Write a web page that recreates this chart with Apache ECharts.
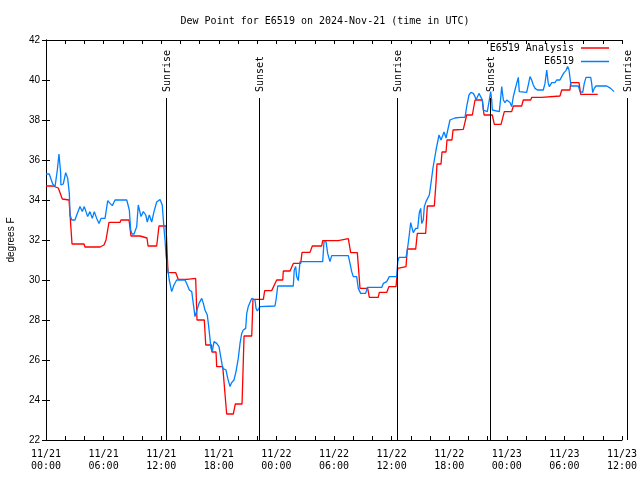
<!DOCTYPE html>
<html>
<head>
<meta charset="utf-8">
<script src="https://cdn.jsdelivr.net/npm/echarts@6/dist/echarts.min.js"></script>
<style>html,body{margin:0;padding:0;background:#fff}#c{width:640px;height:480px}</style>
</head>
<body>
<div id="c"></div>
<script>
// Hours since 2024-11-21 00:00 UTC, dew point (°F)
const analysisData = [
[0,34.7],[0.70,34.7],[0.80,34.6],[1.28,34.6],[1.70,34.05],[2.40,34.0],[2.71,31.8],[3.96,31.8],[4.06,31.65],[5.63,31.65],
[5.73,31.7],[6.04,31.75],[6.25,32.0],[6.56,32.88],[7.71,32.88],[7.81,33.0],[8.65,33.0],[8.85,32.2],[9.79,32.2],[9.90,32.1],
[10.52,32.1],[10.63,31.7],[11.53,31.7],[11.77,32.7],[12.50,32.7],[12.71,30.37],[13.51,30.37],[13.78,30.03],[14.66,30.03],[14.74,30.08],
[15.59,30.08],[15.73,28.0],[16.49,28.0],[16.64,26.75],[17.24,26.75],[17.29,26.4],[17.71,26.4],[17.78,25.67],[18.41,25.67],[18.82,23.3],
[19.51,23.3],[19.72,23.8],[20.42,23.8],[20.63,27.2],[21.43,27.2],[21.56,29.03],[22.64,29.03],[22.78,29.47],[23.51,29.47],[24.03,30.0],
[24.66,30.0],[24.72,30.45],[25.42,30.45],[25.76,30.83],[26.53,30.83],[26.67,31.38],[27.50,31.38],[27.74,31.7],[28.72,31.7],[28.82,31.97],
[30.45,31.97],[30.63,32.07],[31.49,32.07],[31.74,31.37],[32.43,31.37],[32.71,29.58],[33.51,29.58],[33.68,29.13],[34.61,29.13],[34.72,29.38],
[35.49,29.38],[35.73,29.67],[36.46,29.67],[36.64,30.58],[36.67,30.67],[37.50,30.67],[37.64,31.55],[38.51,31.55],[38.68,32.33],[39.55,32.33],
[39.72,33.7],[40.45,33.7],[40.63,34.9],[40.73,35.8],[41.15,35.8],[41.25,36.4],[41.67,36.4],[41.77,37.0],[42.29,37.0],[42.40,37.5],
[43.47,37.53],[43.82,38.25],[44.41,38.25],[44.69,39.0],[45.45,39.0],[45.63,38.25],[46.49,38.25],[46.70,37.78],[47.40,37.78],[47.74,38.42],
[48.51,38.42],[48.68,38.7],[49.55,38.7],[49.72,39.0],[50.49,39.0],[50.59,39.13],[51.64,39.13],[51.67,39.2],[53.54,39.2],[53.72,39.5],
[54.58,39.5],[54.66,39.87],[55.52,39.87],[55.70,39.28],[57.47,39.28]
];
const stationData = [
[0.00,35.3],[0.34,35.3],[0.70,34.8],[0.94,34.67],[1.18,35.5],[1.35,36.3],[1.53,35.33],[1.55,34.75],[1.80,34.8],[2.05,35.37],
[2.26,35.08],[2.43,34.33],[2.50,33.25],[2.68,33.0],[3.02,33.0],[3.20,33.25],[3.54,33.67],[3.78,33.42],[3.99,33.67],[4.34,33.17],
[4.58,33.42],[4.82,33.08],[5.03,33.42],[5.28,33.08],[5.52,32.83],[5.73,33.08],[6.15,33.08],[6.43,33.97],[6.67,33.83],[6.91,33.72],
[7.19,34.0],[8.41,34.0],[8.68,33.5],[8.82,32.5],[8.96,32.3],[9.17,32.3],[9.45,32.67],[9.61,33.75],[9.90,33.17],[10.14,33.42],
[10.39,33.25],[10.55,32.9],[10.76,33.25],[11.01,32.9],[11.25,33.42],[11.53,33.9],[11.88,34.03],[12.11,33.75],[12.29,32.58],[12.40,32.0],
[12.50,31.25],[12.64,30.67],[12.84,30.0],[13.09,29.42],[13.33,29.75],[13.61,30.0],[14.48,30.0],[14.72,29.75],[14.93,29.5],[15.18,29.42],
[15.34,28.83],[15.52,28.17],[15.70,28.25],[15.94,28.83],[16.22,29.08],[16.39,28.83],[16.56,28.5],[16.80,28.25],[16.91,27.83],[17.08,27.08],
[17.19,26.58],[17.32,26.42],[17.50,26.92],[17.78,26.83],[18.02,26.67],[18.20,26.17],[18.41,25.58],[18.75,25.5],[18.93,25.08],[19.17,24.67],
[19.34,24.87],[19.58,25.0],[19.79,25.42],[20.03,26.08],[20.21,26.83],[20.39,27.33],[20.55,27.5],[20.80,27.58],[20.91,28.33],[21.07,28.67],
[21.25,28.67],[21.43,29.08],[21.59,29.17],[21.77,29.0],[21.88,28.58],[22.01,28.45],[22.29,28.67],[23.85,28.7],[23.96,29.0],[24.14,29.7],
[25.76,29.7],[25.86,30.5],[26.01,30.67],[26.11,30.17],[26.28,29.97],[26.46,30.92],[28.82,30.92],[28.96,31.92],[29.17,31.92],[29.34,31.33],
[29.58,30.92],[29.76,31.22],[31.49,31.22],[31.74,30.67],[31.84,30.42],[32.01,30.17],[32.36,30.17],[32.53,29.58],[32.78,29.33],[33.30,29.33],
[33.47,29.63],[34.97,29.63],[35.14,29.83],[35.49,29.92],[35.76,30.17],[36.53,30.17],[36.64,30.92],[36.77,31.13],[37.50,31.13],[37.64,31.5],
[37.84,32.25],[37.99,32.87],[38.09,32.67],[38.26,32.37],[38.51,32.58],[38.72,32.58],[38.89,33.38],[39.03,33.58],[39.14,32.83],[39.30,33.0],
[39.41,33.67],[39.58,33.92],[39.76,33.92],[39.93,34.25],[40.10,34.83],[40.31,35.6],[40.63,36.5],[40.94,37.25],[41.15,37.0],[41.46,37.4],
[41.67,37.1],[42.08,38.0],[42.60,38.1],[43.13,38.13],[43.65,38.13],[43.82,38.67],[44.06,39.25],[44.27,39.38],[44.51,39.33],[44.69,39.17],
[44.79,39.0],[44.93,39.08],[45.10,39.33],[45.28,39.25],[45.45,39.0],[45.55,38.5],[45.73,38.42],[45.97,38.42],[46.15,38.92],[46.32,39.42],
[46.43,39.0],[46.49,38.5],[46.59,38.42],[47.22,38.42],[47.36,39.08],[47.47,39.67],[47.64,39.0],[47.81,38.87],[47.99,39.0],[48.16,38.97],
[48.33,38.87],[48.51,38.67],[48.68,39.17],[48.85,39.5],[49.03,39.83],[49.20,40.13],[49.30,39.42],[50.07,39.38],[50.24,39.75],[50.42,40.17],
[50.59,40.0],[50.76,39.75],[50.94,39.58],[51.18,39.5],[51.80,39.5],[51.98,39.83],[52.16,40.5],[52.32,39.83],[52.43,39.67],[52.68,39.87],
[53.02,39.87],[53.20,40.0],[53.54,40.0],[53.72,40.17],[53.96,40.37],[54.17,40.47],[54.34,40.67],[54.48,40.5],[54.69,39.7],[55.45,39.7],
[55.63,39.42],[55.91,39.38],[56.07,39.83],[56.25,40.13],[56.74,40.13],[56.84,39.83],[56.95,39.37],[57.11,39.58],[57.29,39.7],[58.41,39.7],
[58.82,39.58],[59.17,39.42]
];
const sunHours = [12.53, 22.22, 36.53, 46.2, 60.52];
const sunLabels = ['Sunrise', 'Sunset', 'Sunrise', 'Sunset', 'Sunrise'];
const seriesNames = ['E6519 Analysis', 'E6519'];
const seriesColors = ['#ff0000', '#0080ff'];
const titleText = 'Dew Point for E6519 on 2024-Nov-21 (time in UTC)';
const yName = 'degrees F';
const startDay = 21;
const Y_MIN = 22, Y_MAX = 42, Y_STEP = 2;
const X_MIN = 0, X_MAX = 60, X_STEP = 2, X_LABEL_STEP = 6;
const SUN_LINE_TOP = 39.1, SUN_LABEL_BASE = 39.4;

const mono = 'DejaVu Sans Mono';
const sans = 'Liberation Sans';
const pad = n => (n < 10 ? '0' : '') + n;

const chart = echarts.init(document.getElementById('c'), null, {renderer: 'canvas'});
const axisCommon = {
  type: 'value', min: X_MIN, max: X_MAX, interval: X_STEP,
  axisLine: {show: true, onZero: false, lineStyle: {color: '#000', width: 1}},
  axisTick: {show: true, inside: true, length: 4, lineStyle: {color: '#000'}},
  splitLine: {show: false}
};
const legendCommon = {
  right: 31, padding: 0, itemWidth: 28, itemHeight: 1.5, align: 'right', icon: 'rect',
  textStyle: {fontFamily: mono, fontSize: 10, color: '#000', padding: [0, 2, 0, 0]}
};
chart.setOption({
  animation: false,
  backgroundColor: '#fff',
  title: {
    text: titleText, left: 320, top: 11, textAlign: 'center',
    textStyle: {fontFamily: mono, fontSize: 10, fontWeight: 'normal', color: '#000'}
  },
  legend: [
    Object.assign({}, legendCommon, {data: [seriesNames[0]], top: 43}),
    Object.assign({}, legendCommon, {data: [seriesNames[1]], top: 56.5})
  ],
  grid: {left: 46, right: 18, top: 40, bottom: 40, containLabel: false, outerBoundsMode: 'none'},
  xAxis: [
    Object.assign({}, axisCommon, {
      position: 'bottom',
      axisLabel: {
        show: true, margin: 8, fontFamily: mono, fontSize: 10, lineHeight: 12, color: '#000',
        formatter: v => {
          if (Math.round(v) % X_LABEL_STEP !== 0) return '';
          const d = startDay + Math.floor(v / 24);
          const h = Math.round(v) % 24;
          return '11/' + pad(d) + '\n' + pad(h) + ':00';
        }
      }
    }),
    Object.assign({}, axisCommon, {position: 'top', axisLabel: {show: false}})
  ],
  yAxis: [
    {
      type: 'value', min: Y_MIN, max: Y_MAX, interval: Y_STEP, position: 'left',
      name: yName, nameLocation: 'middle', nameGap: 30, nameRotate: 90,
      nameTextStyle: {fontFamily: sans, fontSize: 10, color: '#000'},
      axisLine: {show: true, lineStyle: {color: '#000'}},
      axisTick: {show: true, inside: true, length: 4, lineStyle: {color: '#000'}},
      axisLabel: {margin: 6, fontFamily: sans, fontSize: 10, color: '#000'},
      splitLine: {show: false}
    },
    {
      type: 'value', min: Y_MIN, max: Y_MAX, interval: Y_STEP, position: 'right',
      axisLine: {show: true, lineStyle: {color: '#000'}},
      axisTick: {show: true, inside: true, length: 4, lineStyle: {color: '#000'}},
      axisLabel: {show: false}, splitLine: {show: false}
    }
  ],
  series: [
    {
      name: seriesNames[0], type: 'line', data: analysisData, symbol: 'none', showSymbol: false,
      color: seriesColors[0], lineStyle: {color: seriesColors[0], width: 1.3}, z: 3
    },
    {
      name: seriesNames[1], type: 'line', data: stationData, symbol: 'none', showSymbol: false,
      color: seriesColors[1], lineStyle: {color: seriesColors[1], width: 1.3}, z: 4
    },
    {
      name: 'sun', type: 'custom', clip: false, z: 5,
      data: sunHours.map(t => [t, Y_MIN]),
      renderItem: (params, api) => {
        const t = api.value(0);
        const p0 = api.coord([t, Y_MIN]);
        const p1 = api.coord([t, SUN_LINE_TOP]);
        const pl = api.coord([t, SUN_LABEL_BASE]);
        const x = Math.round(p0[0]) + 0.5;
        return {
          type: 'group',
          children: [
            {type: 'line', shape: {x1: x, y1: p0[1], x2: x, y2: p1[1]},
             style: {stroke: '#000', lineWidth: 1}},
            {type: 'text', x: x + 1, y: pl[1], rotation: Math.PI / 2,
             style: {text: sunLabels[params.dataIndex], font: '10px "' + mono + '"', fill: '#000',
                     align: 'left', verticalAlign: 'middle'}}
          ]
        };
      }
    }
  ]
});
</script>
</body>
</html>
